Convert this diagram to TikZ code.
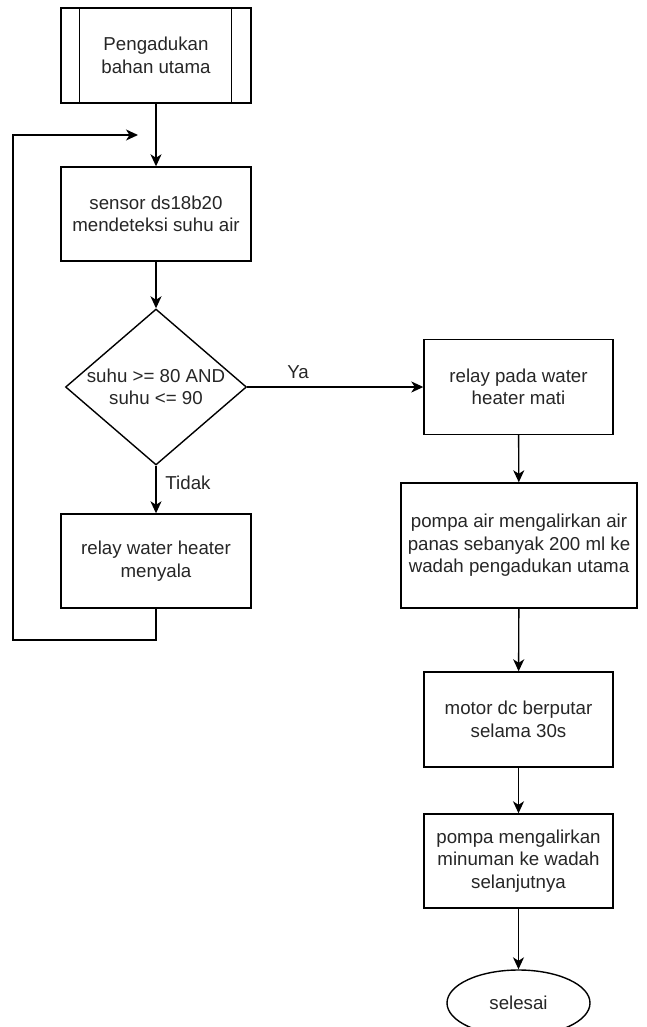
\documentclass[tikz,border=0pt]{standalone}
\usepackage{fontspec}
\setmainfont{Liberation Sans}
\usetikzlibrary{arrows.meta,positioning,calc,shapes.geometric}

\begin{document}
\begin{tikzpicture}[x=1pt,y=-1pt,
    line width=1.4pt,
    every node/.style={text=black!85, font=\fontsize{18.7}{22.4}\selectfont, align=center},
    box/.style={draw=black, line width=1.4pt, inner sep=0pt},
    decision/.style={draw=black, line width=1.4pt, diamond, inner sep=-3pt, aspect=1.16, minimum width=181, minimum height=156},
    terminal/.style={draw=black, line width=1.4pt, ellipse, minimum width=143, minimum height=66},
    flow/.style={-{Stealth[length=12pt,width=11pt,inset=3.5pt]}}]
    \useasboundingbox (0,0) rectangle (647,1027);
    \fill[white] (0,0) rectangle (647,1027);
    \node[box, minimum width=190, minimum height=95] (start) at (156,55.5) {Pengadukan\\bahan utama};
    \draw ($(start.north west)+(19,0)$) -- ($(start.south west)+(19,0)$);
    \draw ($(start.north east)+(-20,0)$) -- ($(start.south east)+(-20,0)$);
    \node[box, minimum width=190, minimum height=94] (sensor) at (156,214) {sensor ds18b20\\mendeteksi suhu air};
    \node[decision] (cek) at (156,387) {suhu >= 80 AND\\suhu <= 90};
    \node[box, minimum width=190, minimum height=94] (heaton) at (156,561) {relay water heater\\menyala};
    \node[box, minimum width=189, minimum height=95] (heatoff) at (518.5,387) {relay pada water\\heater mati};
    \node[box, minimum width=236, minimum height=125] (pompa) at (519,545.5) {pompa air mengalirkan air\\panas sebanyak 200 ml ke\\wadah pengadukan utama};
    \node[box, minimum width=189, minimum height=95] (motor) at (518.5,719.5) {motor dc berputar\\selama 30s};
    \node[box, minimum width=189, minimum height=94] (keluar) at (518.5,861) {pompa mengalirkan\\minuman ke wadah\\selanjutnya};
    \node[terminal] (selesai) at (518.5,1003) {selesai};
    \node (ya) at (298,372) {Ya};
    \node (tidak) at (188,483) {Tidak};
    \coordinate (loopbawah) at (13,640);
    \coordinate (loopatas) at (138,135);
    \draw[flow] (start) -- (sensor);
    \draw[flow] (sensor) -- (cek);
    \draw[flow] (cek) -- (heaton);
    \draw[flow] (cek) -- (heatoff);
    \draw[flow] (heaton.south) |- (loopbawah) |- (loopatas);
    \draw[flow] (heatoff) -- (pompa);
    \draw[flow] (pompa) -- (motor);
    \draw[flow] (motor) -- (keluar);
    \draw[flow] (keluar) -- (selesai);
  \end{tikzpicture}
\end{document}
